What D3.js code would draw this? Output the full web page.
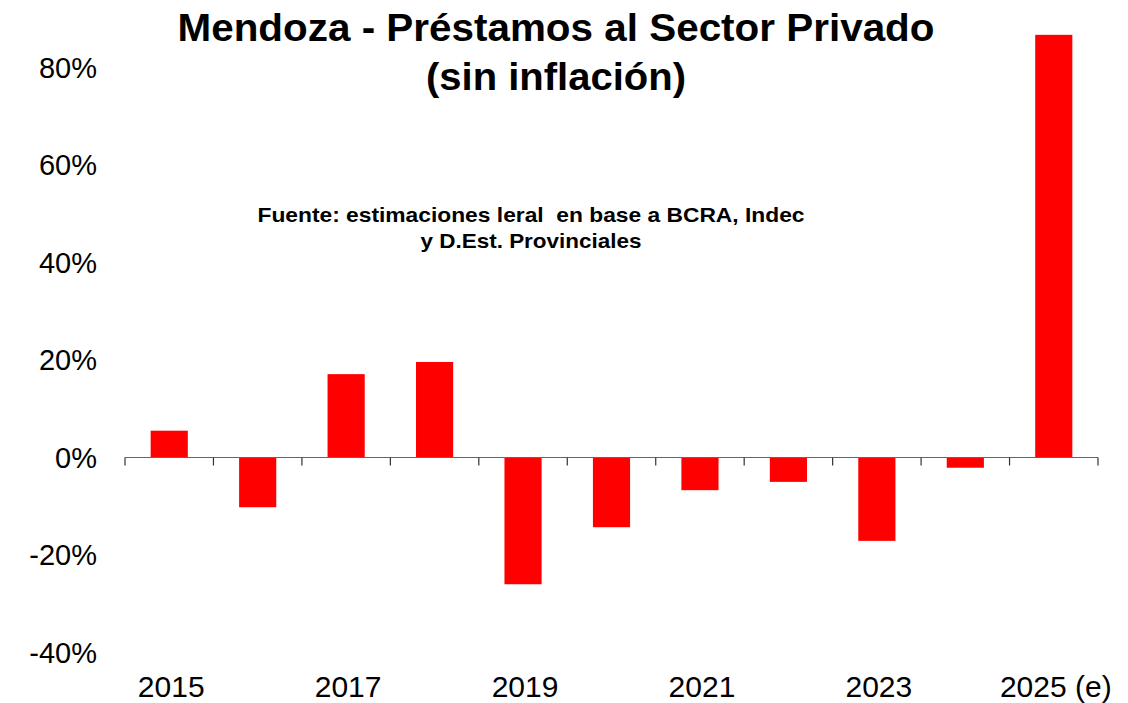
<!DOCTYPE html>
<html>
<head>
<meta charset="utf-8">
<script src="https://cdn.jsdelivr.net/npm/d3@7"></script>
<style>
  body { margin: 0; background: #fff; }
  text { font-family: "Liberation Sans", Arial, sans-serif; }
</style>
</head>
<body>
<script>
// datos
const years = ["2015", "2016", "2017", "2018", "2019", "2020", "2021", "2022", "2023", "2024", "2025 (e)"];
const values = [5.5, -10.2, 17.1, 19.6, -26.0, -14.3, -6.7, -5.0, -17.1, -2.1, 86.7];
const yTicks = [-40, -20, 0, 20, 40, 60, 80];
const xLabels = ["2015", "2017", "2019", "2021", "2023", "2025 (e)"];

const W = 1128, H = 703;

const svg = d3.select("body").append("svg")
  .attr("width", W)
  .attr("height", H);

const x = d3.scaleBand()
  .domain(years)
  .range([125, 1098])
  .paddingInner(0.58)
  .paddingOuter(0.29);

// bandas completas para las marcas del eje
const xCat = d3.scaleBand()
  .domain(years)
  .range([125, 1098]);

const y = d3.scaleLinear()
  .domain([-40, 80])
  .range([652.5, 67.5]);

// barras
svg.selectAll("rect.bar")
  .data(values)
  .enter()
  .append("rect")
  .attr("class", "bar")
  .attr("x", (d, i) => x(years[i]))
  .attr("width", x.bandwidth())
  .attr("y", d => y(Math.max(0, d)))
  .attr("height", d => Math.abs(y(d) - y(0)))
  .attr("fill", "#ff0000");

// eje x en cero
svg.append("line")
  .attr("x1", 125).attr("x2", 1098)
  .attr("y1", y(0)).attr("y2", y(0))
  .attr("stroke", "#666").attr("stroke-width", 1.2);

const bounds = years.map(d => xCat(d)).concat([1098]);
svg.selectAll("line.tick")
  .data(bounds)
  .enter()
  .append("line")
  .attr("class", "tick")
  .attr("x1", d => d).attr("x2", d => d)
  .attr("y1", y(0)).attr("y2", y(0) + 8)
  .attr("stroke", "#333").attr("stroke-width", 1.2);

// etiquetas eje y
svg.selectAll("text.ylab")
  .data(yTicks)
  .enter()
  .append("text")
  .attr("class", "ylab")
  .attr("x", 97)
  .attr("y", d => y(d))
  .attr("dy", "0.36em")
  .attr("text-anchor", "end")
  .attr("font-size", 29)
  .text(d => d + "%");

// etiquetas eje x
svg.selectAll("text.xlab")
  .data(xLabels)
  .enter()
  .append("text")
  .attr("class", "xlab")
  .attr("x", d => xCat(d) + xCat.bandwidth() / 2 + 2)
  .attr("y", 697)
  .attr("text-anchor", "middle")
  .attr("font-size", 30)
  .text(d => d);

// titulo
svg.append("text")
  .attr("x", 556).attr("y", 41)
  .attr("text-anchor", "middle")
  .attr("font-size", 38).attr("font-weight", "bold")
  .attr("textLength", 757).attr("lengthAdjust", "spacingAndGlyphs")
  .text("Mendoza - Préstamos al Sector Privado");

svg.append("text")
  .attr("x", 556).attr("y", 90)
  .attr("text-anchor", "middle")
  .attr("font-size", 38).attr("font-weight", "bold")
  .attr("textLength", 260).attr("lengthAdjust", "spacingAndGlyphs")
  .text("(sin inflación)");

// fuente
svg.append("text")
  .attr("x", 531).attr("y", 222)
  .attr("text-anchor", "middle")
  .attr("font-size", 21).attr("font-weight", "bold")
  .attr("textLength", 547).attr("lengthAdjust", "spacingAndGlyphs")
  .style("white-space", "pre")
  .text("Fuente: estimaciones leral  en base a BCRA, Indec");

svg.append("text")
  .attr("x", 531).attr("y", 248)
  .attr("text-anchor", "middle")
  .attr("font-size", 21).attr("font-weight", "bold")
  .attr("textLength", 221).attr("lengthAdjust", "spacingAndGlyphs")
  .text("y D.Est. Provinciales");
</script>
</body>
</html>
